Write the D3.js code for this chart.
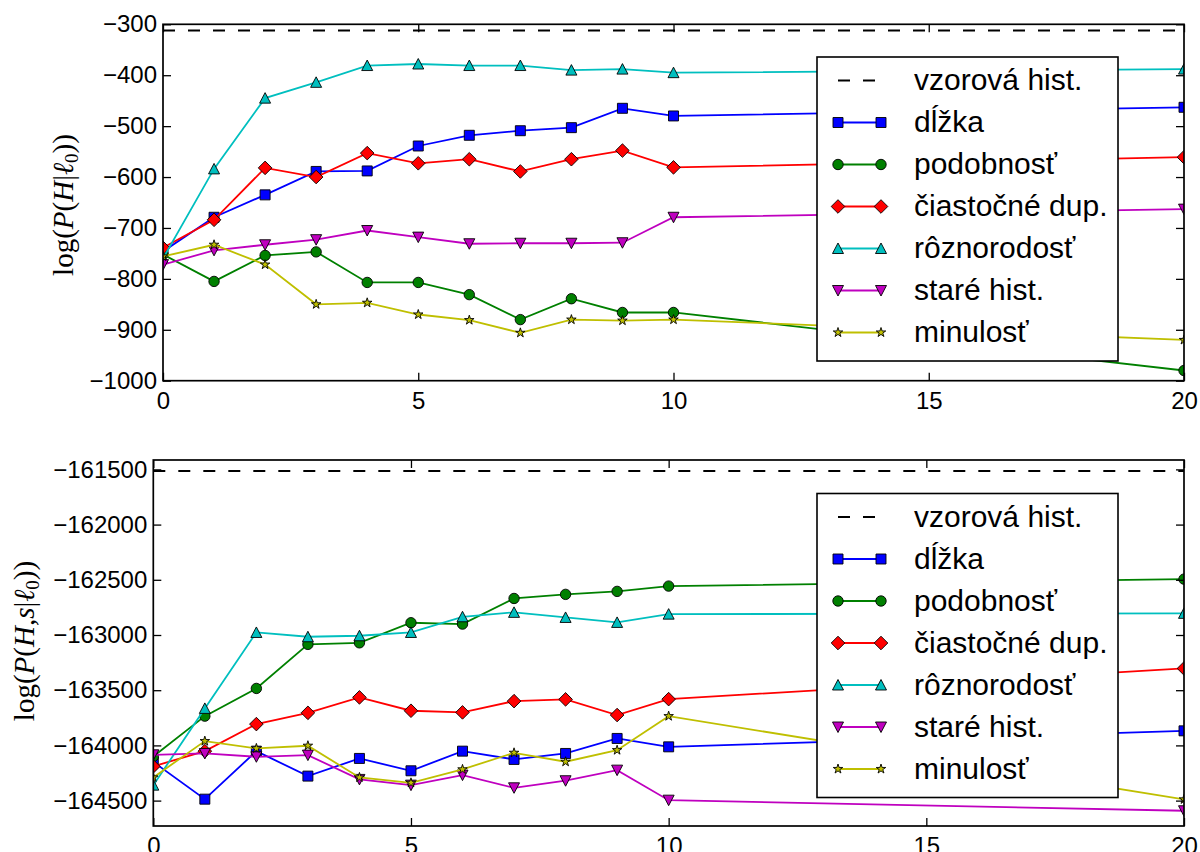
<!doctype html>
<html>
  <head>
    <meta charset="utf-8">
    <script src="https://cdn.jsdelivr.net/npm/d3@7/dist/d3.min.js"></script>
    <style>
    body { margin: 0; background: #fff; }
    svg { font-family: "Liberation Sans", Arial, sans-serif; }
    .tick text { font-size: 24px; fill: #000; }
    .tick line { stroke: #000; stroke-width: 1.3; }
    .frame { fill: none; stroke: #000; stroke-width: 1.7; }
    .series { fill: none; stroke-width: 1.8; }
    .legend-box { fill: #fff; stroke: #000; stroke-width: 1.6; }
    .legend text { font-size: 30px; }
    .ylabel { font-family: "Liberation Serif", "DejaVu Serif", serif; font-size: 29px; }
    </style>
  </head>
  <body>
    <svg width="1200" height="852"></svg>
    <script>
      // x positions (iterations)
      var steps = [0, 1, 2, 3, 4, 5, 6, 7, 8, 9, 10, 20];
      var names = ["dĺžka", "podobnosť", "čiastočné dup.", "rôznorodosť", "staré hist.", "minulosť"];
      var refName = "vzorová hist.";
      var colors = ["#0000ff", "#008000", "#ff0000", "#00bfbf", "#bf00bf", "#bfbf00"];
      var markers = ["square", "circle", "diamond", "triUp", "triDown", "star"];

      // top panel: log(P(H|l0))
      var topRef = -312;
      var topDlzka = [-746, -679, -635, -589, -588, -539, -518, -509, -503, -465, -480, -463];
      var topPodobnost = [-752, -805, -754, -747, -807, -807, -831, -880, -839, -866, -866, -980];
      var topCiastocne = [-739, -684, -582, -600, -553, -573, -565, -589, -565, -548, -581, -561];
      var topRoznorodost = [-760, -584, -445, -414, -381, -378, -381, -381, -390, -388, -395, -388];
      var topStare = [-772, -744, -733, -723, -705, -718, -731, -730, -730, -729, -679, -663];
      var topMinulost = [-756, -733, -772, -850, -847, -870, -881, -906, -880, -882, -880, -920];
      var topYTicks = [-1000, -900, -800, -700, -600, -500, -400, -300];

      // bottom panel: log(P(H,s|l0))
      var botRef = -161515;
      var botDlzka = [-164150, -164487, -164052, -164278, -164118, -164230, -164052, -164127, -164073, -163937, -164013, -163868];
      var botPodobnost = [-164100, -163735, -163484, -163085, -163071, -162889, -162901, -162669, -162632, -162605, -162557, -162494];
      var botCiastocne = [-164190, -164052, -163807, -163705, -163565, -163686, -163701, -163599, -163583, -163725, -163581, -163303];
      var botRoznorodost = [-164360, -163665, -162977, -163016, -163007, -162977, -162835, -162795, -162841, -162886, -162811, -162804];
      var botStare = [-164085, -164073, -164103, -164088, -164308, -164360, -164269, -164384, -164320, -164224, -164496, -164592];
      var botMinulost = [-164290, -163961, -164027, -164003, -164290, -164339, -164217, -164067, -164148, -164043, -163735, -164489];
      var botYTicks = [-164500, -164000, -163500, -163000, -162500, -162000, -161500];

      var xTicks = [0, 5, 10, 15, 20];

      var svg = d3.select("svg");
      var fmt = d3.format("d");

      function markerPath(type) {
        var p = d3.path();
        if (type == "square") {
          p.rect(-5, -5, 10, 10);
        } else if (type == "circle") {
          p.arc(0, 0, 5.2, 0, 2 * Math.PI);
        } else if (type == "diamond") {
          p.moveTo(0, -6.8); p.lineTo(6.8, 0); p.lineTo(0, 6.8); p.lineTo(-6.8, 0); p.closePath();
        } else if (type == "triUp") {
          p.moveTo(0, -5.5); p.lineTo(5.5, 5); p.lineTo(-5.5, 5); p.closePath();
        } else if (type == "triDown") {
          p.moveTo(0, 5.5); p.lineTo(5.5, -5); p.lineTo(-5.5, -5); p.closePath();
        } else {
          for (var i = 0; i < 10; i++) {
            var r = i % 2 ? 1.9 : 5;
            var a = -Math.PI / 2 + i * Math.PI / 5;
            if (i == 0) p.moveTo(r * Math.cos(a), r * Math.sin(a));
            else p.lineTo(r * Math.cos(a), r * Math.sin(a));
          }
          p.closePath();
        }
        return p.toString();
      }

      function drawPanel(cfg) {
        var x = d3.scaleLinear().domain([0, 20]).range([cfg.left, 1184]);
        var y = d3.scaleLinear().domain(cfg.yDomain).range([cfg.bottom, cfg.top]);
        var g = svg.append("g");

        g.append("clipPath").attr("id", cfg.id)
          .append("rect")
            .attr("x", cfg.left).attr("y", cfg.top)
            .attr("width", 1184 - cfg.left).attr("height", cfg.bottom - cfg.top);

        var plot = g.append("g").attr("clip-path", `url(#${cfg.id})`);

        plot.append("line")
          .attr("x1", x(0)).attr("x2", x(20))
          .attr("y1", y(cfg.ref)).attr("y2", y(cfg.ref))
          .attr("stroke", "#000").attr("stroke-width", 2)
          .attr("stroke-dasharray", "12,13");

        var line = d3.line().x((d, i) => x(steps[i])).y(d => y(d));
        cfg.series.forEach((vals, k) => {
          plot.append("path")
            .attr("class", "series")
            .attr("stroke", colors[k])
            .attr("d", line(vals));
          plot.selectAll(null)
            .data(vals)
            .enter()
            .append("path")
              .attr("transform", (d, i) => `translate(${x(steps[i])},${y(d)})`)
              .attr("d", markerPath(markers[k]))
              .attr("fill", colors[k])
              .attr("stroke", "#000")
              .attr("stroke-width", 0.9);
        });

        // axes with inward ticks on all four sides
        g.append("g")
          .attr("transform", `translate(${cfg.left},0)`)
          .call(d3.axisLeft(y).tickValues(cfg.yTicks).tickFormat(fmt).tickSizeInner(-8).tickSizeOuter(0).tickPadding(6))
          .call(a => a.select(".domain").remove());
        g.append("g")
          .attr("transform", "translate(1184,0)")
          .call(d3.axisRight(y).tickValues(cfg.yTicks).tickSizeInner(-8).tickSizeOuter(0).tickFormat(""))
          .call(a => a.select(".domain").remove());
        g.append("g")
          .attr("transform", `translate(0,${cfg.bottom})`)
          .call(d3.axisBottom(x).tickValues(xTicks).tickFormat(fmt).tickSizeInner(-8).tickSizeOuter(0).tickPadding(11))
          .call(a => a.select(".domain").remove());
        g.append("g")
          .attr("transform", `translate(0,${cfg.top})`)
          .call(d3.axisTop(x).tickValues(xTicks).tickSizeInner(-8).tickSizeOuter(0).tickFormat(""))
          .call(a => a.select(".domain").remove());
        g.selectAll(".tick text").attr("font-family", null).attr("font-size", null);

        g.append("rect")
          .attr("class", "frame")
          .attr("x", cfg.left).attr("y", cfg.top)
          .attr("width", 1184 - cfg.left).attr("height", cfg.bottom - cfg.top);

        // y label
        var lab = g.append("text")
          .attr("class", "ylabel")
          .attr("transform", `translate(${cfg.labelX},${cfg.labelY}) rotate(-90)`)
          .attr("text-anchor", "middle");
        lab.append("tspan").text("log(");
        lab.append("tspan").attr("font-style", "italic").text("P");
        lab.append("tspan").text("(");
        lab.append("tspan").attr("font-style", "italic").text("H");
        if (cfg.withS) {
          lab.append("tspan").text(",");
          lab.append("tspan").attr("font-style", "italic").text("s");
        }
        lab.append("tspan").text("|");
        lab.append("tspan").attr("font-style", "italic").text("ℓ");
        lab.append("tspan").attr("font-size", "19px").attr("dy", 5).text("0");
        lab.append("tspan").attr("dy", -5).text("))");

        // legend
        var lg = g.append("g").attr("class", "legend")
          .attr("transform", `translate(817,${cfg.legendTop})`);
        lg.append("rect").attr("class", "legend-box")
          .attr("width", 301).attr("height", 304);
        var rows = [refName].concat(names);
        rows.forEach((name, r) => {
          var ry = 23.5 + r * 42;
          var row = lg.append("g").attr("transform", `translate(0,${ry})`);
          if (r == 0) {
            row.append("line")
              .attr("x1", 21).attr("x2", 64).attr("y1", 0).attr("y2", 0)
              .attr("stroke", "#000").attr("stroke-width", 2)
              .attr("stroke-dasharray", "12,13");
          } else {
            var k = r - 1;
            row.append("line")
              .attr("x1", 21).attr("x2", 64).attr("y1", 0).attr("y2", 0)
              .attr("stroke", colors[k]).attr("stroke-width", 1.8);
            [21, 64].forEach(mx => {
              row.append("path")
                .attr("transform", `translate(${mx},0)`)
                .attr("d", markerPath(markers[k]))
                .attr("fill", colors[k])
                .attr("stroke", "#000")
                .attr("stroke-width", 0.9);
            });
          }
          row.append("text")
            .attr("x", 97).attr("dy", "0.33em")
            .text(name);
        });
      }

      drawPanel({
        id: "clipTop", left: 163, top: 24.3, bottom: 380.7,
        yDomain: [-1000, -300], yTicks: topYTicks, ref: topRef,
        series: [topDlzka, topPodobnost, topCiastocne, topRoznorodost, topStare, topMinulost],
        labelX: 73, labelY: 205, withS: false, legendTop: 57
      });
      drawPanel({
        id: "clipBot", left: 153.3, top: 460, bottom: 826,
        yDomain: [-164730, -161415], yTicks: botYTicks, ref: botRef,
        series: [botDlzka, botPodobnost, botCiastocne, botRoznorodost, botStare, botMinulost],
        labelX: 34, labelY: 641, withS: true, legendTop: 493.5
      });
    </script>
  </body>
</html>
